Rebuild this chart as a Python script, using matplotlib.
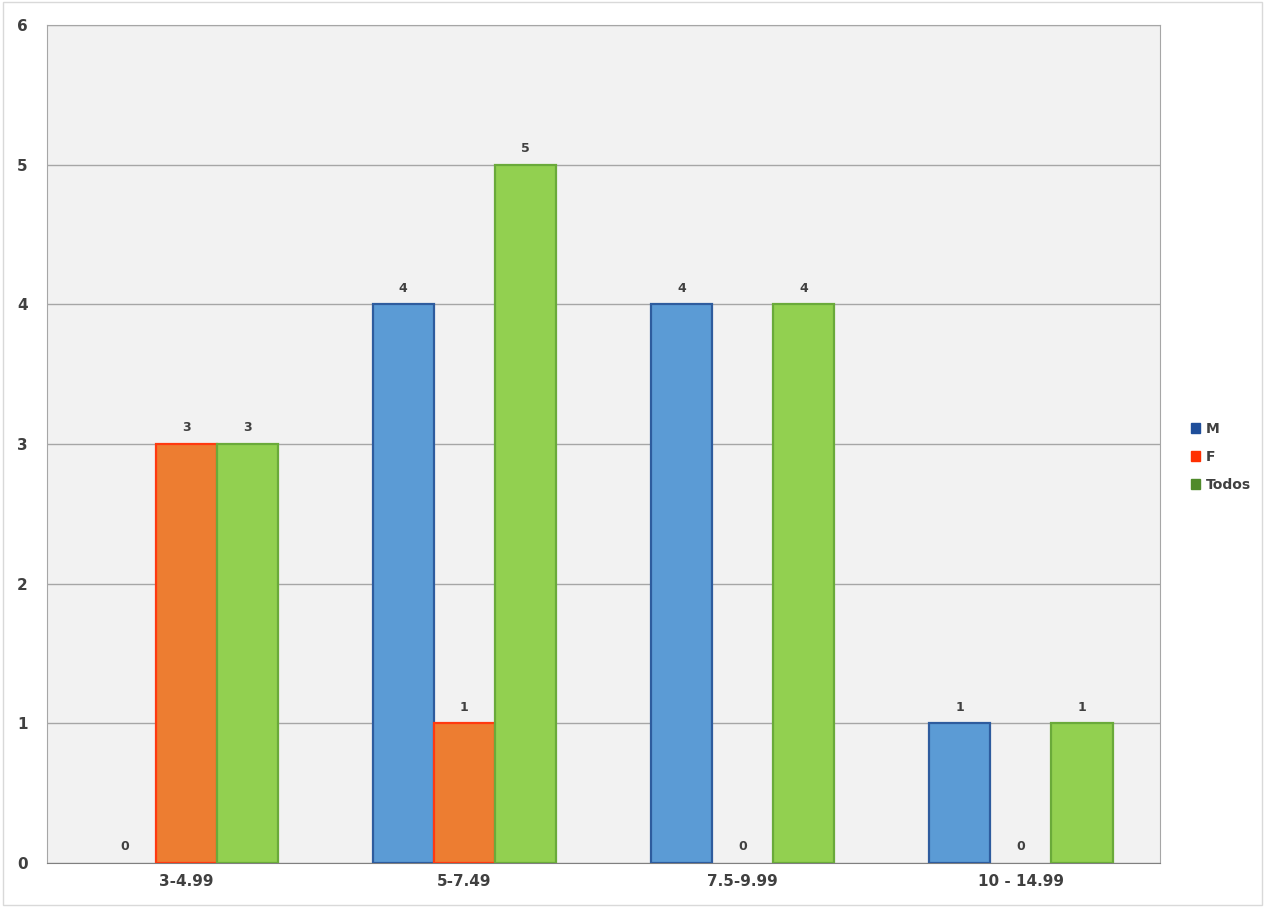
import numpy as np
import matplotlib.pyplot as plt
from matplotlib.patches import Patch

categories = ["3-4.99", "5-7.49", "7.5-9.99", "10 - 14.99"]
m_vals = [0, 4, 4, 1]
f_vals = [3, 1, 0, 0]
todos_vals = [3, 5, 4, 1]
series_names = ["M", "F", "Todos"]

fills = ["#5b9bd5", "#ed7d31", "#92d050"]
edges = ["#2e5c9e", "#ff3a10", "#6aaa3a"]
legend_cols = ["#1f4e9a", "#ff2f00", "#4f8a2a"]

fig = plt.figure(figsize=(12.65, 9.07), dpi=100)
ax = fig.add_axes([47 / 1265, 1 - 863 / 907, 1113 / 1265, 838 / 907])
ax.set_facecolor("#f2f2f2")

x = np.arange(len(categories))
w = 0.22
for i, vals in enumerate([m_vals, f_vals, todos_vals]):
    pos = x + (i - 1) * w
    lw = [1.6 if v > 0 else 0 for v in vals]
    ax.bar(pos, vals, w, color=fills[i], edgecolor=edges[i], linewidth=lw, zorder=3)
    for p, v in zip(pos, vals):
        ax.text(p, v + 0.07, str(v), ha="center", va="bottom",
                fontsize=9, fontweight="bold", color="#404040", zorder=4)

ax.set_xlim(-0.5, len(categories) - 0.5)
ax.set_ylim(0, 6)
ax.set_yticks(range(7))
ax.set_xticks(x)
ax.set_xticklabels(categories)
ax.grid(axis="y", color="#a6a6a6", linewidth=1, zorder=0)
for side in ["top", "right", "left"]:
    ax.spines[side].set_color("#a6a6a6")
ax.spines["bottom"].set_color("#808080")
ax.tick_params(length=0, labelsize=11, colors="#404040", pad=8)
for lab in ax.get_xticklabels() + ax.get_yticklabels():
    lab.set_fontweight("bold")
ax.tick_params(axis="y", pad=14)

handles = [Patch(facecolor=c, edgecolor=c) for c in legend_cols]
fig.legend(handles, series_names, loc="center left", bbox_to_anchor=(1178 / 1265, 1 - 457 / 907),
           frameon=False, handlelength=0.7, handleheight=0.7, handletextpad=0.4,
           labelspacing=1.0, prop={"size": 10, "weight": "bold"}, labelcolor="#404040")

fig.patches.append(plt.Rectangle((0.002, 0.002), 0.996, 0.996, transform=fig.transFigure,
                                 fill=False, edgecolor="#d9d9d9", linewidth=1))
fig.savefig("out.png")
